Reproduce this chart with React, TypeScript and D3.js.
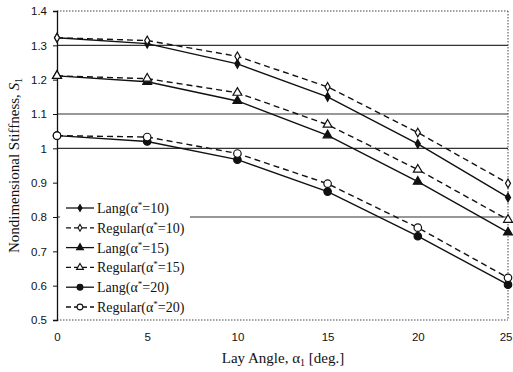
import { useEffect, useRef } from "react";
import * as d3 from "d3";

const angles = [0, 5, 10, 15, 20, 25];
const lang10 = [1.322, 1.305, 1.246, 1.15, 1.013, 0.857];
const reg10 = [1.322, 1.314, 1.268, 1.179, 1.046, 0.898];
const lang15 = [1.211, 1.194, 1.138, 1.038, 0.903, 0.755];
const reg15 = [1.211, 1.203, 1.162, 1.069, 0.938, 0.792];
const lang20 = [1.037, 1.02, 0.967, 0.874, 0.744, 0.603];
const reg20 = [1.037, 1.033, 0.985, 0.897, 0.769, 0.623];

const xTicks = [0, 5, 10, 15, 20, 25];
const yTicks = [0.5, 0.6, 0.7, 0.8, 0.9, 1.0, 1.1, 1.2, 1.3, 1.4];
const gridLines = [1.3, 1.1, 1.0, 0.8];

const series = [
  { name: "Lang", a: "10", values: lang10, dashed: false, marker: "diamond", filled: true },
  { name: "Regular", a: "10", values: reg10, dashed: true, marker: "diamond", filled: false },
  { name: "Lang", a: "15", values: lang15, dashed: false, marker: "triangle", filled: true },
  { name: "Regular", a: "15", values: reg15, dashed: true, marker: "triangle", filled: false },
  { name: "Lang", a: "20", values: lang20, dashed: false, marker: "circle", filled: true },
  { name: "Regular", a: "20", values: reg20, dashed: true, marker: "circle", filled: false },
];

const W = 513, H = 372;
const SERIF = "'Liberation Serif', 'DejaVu Serif', serif";
const SANS = "'Liberation Sans', Arial, sans-serif";

function symbolFor(kind: string, k = 1) {
  if (kind === "diamond") return d3.symbol(d3.symbolDiamond, 22 * k);
  if (kind === "triangle") return d3.symbol(d3.symbolTriangle, 34 * k);
  return d3.symbol(d3.symbolCircle, 44 * k);
}

export default function App() {
  const ref = useRef<SVGSVGElement>(null);

  useEffect(() => {
    const svg = d3.select(ref.current);
    svg.selectAll("*").remove();

    const x = d3.scaleLinear().domain([0, 25]).range([57, 508]);
    const y = d3.scaleLinear().domain([0.5, 1.4]).range([320, 11]);

    // grid lines
    svg.append("g").selectAll("line").data(gridLines).join("line")
      .attr("x1", x(0)).attr("x2", x(25))
      .attr("y1", d => y(d)).attr("y2", d => y(d))
      .attr("stroke", "#333").attr("stroke-width", 1.2);

    // frame: dotted top / right / bottom
    const frame = svg.append("g").attr("stroke", "#444").attr("stroke-dasharray", "1.5,1.5").attr("fill", "none");
    frame.append("line").attr("x1", x(0)).attr("x2", x(25)).attr("y1", y(1.4)).attr("y2", y(1.4));
    frame.append("line").attr("x1", x(25)).attr("x2", x(25)).attr("y1", y(1.4)).attr("y2", y(0.5));
    frame.append("line").attr("x1", x(0)).attr("x2", x(25)).attr("y1", y(0.5)).attr("y2", y(0.5));

    // left axis
    const yAxis = d3.axisLeft(y).tickValues(yTicks).tickSize(4).tickFormat(d => {
      const v = +d;
      return v === 1 ? "1" : d3.format(".1f")(v);
    });
    const gy = svg.append("g").attr("transform", `translate(${x(0)},0)`).call(yAxis);
    gy.select(".domain").attr("stroke", "#111").attr("stroke-width", 1.3);
    gy.selectAll("line").attr("stroke", "#111");
    gy.selectAll("text").attr("font-family", SANS).attr("font-size", 11.5).attr("fill", "#111").attr("x", -10);

    // x tick labels
    const xAxis = d3.axisBottom(x).tickValues(xTicks).tickSize(0).tickPadding(13);
    const gx = svg.append("g").attr("transform", `translate(0,${y(0.5)})`).call(xAxis);
    gx.select(".domain").remove();
    gx.selectAll("text").attr("font-family", SANS).attr("font-size", 11.5).attr("fill", "#111")
      .attr("text-anchor", d => (+d === 25 ? "end" : "middle"))
      .attr("dx", d => (+d === 25 ? 4 : 0));

    // axis titles
    const xl = svg.append("text").attr("x", 283).attr("y", 363).attr("text-anchor", "middle")
      .attr("font-family", SERIF).attr("font-size", 15).attr("fill", "#111");
    xl.append("tspan").text("Lay Angle, α");
    xl.append("tspan").attr("font-size", 10).attr("dy", 3).text("1");
    xl.append("tspan").attr("dy", -3).text(" [deg.]");

    const yl = svg.append("text").attr("transform", `translate(19,${y(0.95)}) rotate(-90)`)
      .attr("text-anchor", "middle").attr("font-family", SERIF).attr("font-size", 15).attr("fill", "#111");
    yl.append("tspan").text("Nondimensional Stiffness, ");
    yl.append("tspan").attr("font-style", "italic").text("S");
    yl.append("tspan").attr("font-size", 10).attr("dy", 3).text("1");

    // series
    const line = d3.line<number>().x((_, i) => x(angles[i])).y(d => y(d));
    series.forEach(s => {
      svg.append("path").datum(s.values).attr("d", line)
        .attr("fill", "none").attr("stroke", "#111").attr("stroke-width", 1.4)
        .attr("stroke-dasharray", s.dashed ? "6,4" : null);
      svg.append("g").selectAll("path").data(s.values).join("path")
        .attr("d", symbolFor(s.marker))
        .attr("transform", (d, i) => `translate(${x(angles[i])},${y(d)})`)
        .attr("fill", s.filled ? "#111" : "#fff")
        .attr("stroke", "#111").attr("stroke-width", 1.2);
    });

    // legend
    const lg = svg.append("g");
    lg.append("rect").attr("x", 60).attr("y", 197).attr("width", 130).attr("height", 120).attr("fill", "#fff");
    series.forEach((s, i) => {
      const ly = 208 + i * 19.8;
      lg.append("line").attr("x1", 66).attr("x2", 94).attr("y1", ly).attr("y2", ly)
        .attr("stroke", "#111").attr("stroke-width", 1.3)
        .attr("stroke-dasharray", s.dashed ? "5,3" : null);
      lg.append("path").attr("d", symbolFor(s.marker, 0.6))
        .attr("transform", `translate(80,${ly})`)
        .attr("fill", s.filled ? "#111" : "#fff").attr("stroke", "#111").attr("stroke-width", 1.1);
      const t = lg.append("text").attr("x", 97).attr("y", ly + 5)
        .attr("font-family", SERIF).attr("font-size", 14).attr("fill", "#111");
      t.append("tspan").text(`${s.name}(α`);
      t.append("tspan").attr("font-size", 9).attr("dy", -5).text("*");
      t.append("tspan").attr("dy", 5).text(`=${s.a})`);
    });
  }, []);

  return (
    <svg ref={ref} width={W} height={H} style={{ position: "absolute", left: 0, top: 0, background: "#fff" }} />
  );
}
